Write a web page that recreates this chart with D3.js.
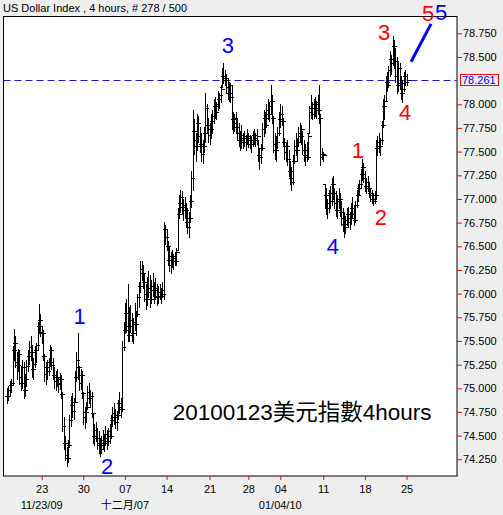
<!DOCTYPE html>
<html><head><meta charset="utf-8">
<script src="https://cdn.jsdelivr.net/npm/d3@7"></script>
<style>
html,body{margin:0;padding:0;background:#eeeeee;}
svg{display:block;font-family:"Liberation Sans",Arial,sans-serif;}
</style></head><body>
<svg id="chart" width="503" height="515"></svg>
<script>
// 4-hour bars of the US Dollar Index (high / low / close per bar)
const high = [
75.00,75.02,75.08,75.10,75.45,75.63,75.55,75.38,75.42,75.40,
75.24,75.30,75.28,75.15,75.30,75.40,75.50,75.55,75.46,75.32,
75.45,75.48,75.70,75.89,75.78,75.66,75.62,75.36,75.28,75.30,
75.32,75.46,75.44,75.32,75.22,75.18,75.20,75.12,75.16,75.14,
74.96,74.70,74.50,74.38,74.45,74.72,74.92,74.95,74.90,75.18,
75.38,75.58,75.24,75.20,75.18,74.96,74.80,74.86,75.02,75.06,
74.98,74.96,74.74,74.62,74.64,74.58,74.55,74.48,74.50,74.56,
74.52,74.60,74.56,74.58,74.62,74.72,74.80,74.84,74.78,74.76,
74.88,74.96,74.90,75.50,75.70,75.90,75.94,76.10,75.86,75.88,
75.80,75.74,75.90,75.82,76.00,76.12,76.34,76.35,76.30,76.22,
76.10,76.18,76.24,76.20,76.14,76.22,76.12,76.16,76.10,76.08,
76.10,76.06,76.12,76.76,76.72,76.68,76.56,76.50,76.44,76.46,
76.42,76.44,76.48,76.90,77.04,77.10,77.08,77.00,77.02,76.96,
76.90,76.86,77.04,77.30,77.94,77.84,77.70,77.90,77.88,77.76,
77.70,77.62,77.76,78.12,78.00,77.86,77.80,77.90,77.94,78.06,
78.08,78.02,78.14,78.12,78.20,78.38,78.44,78.36,78.32,78.28,
78.24,78.22,78.20,77.92,77.90,77.92,77.84,77.80,77.72,77.78,
77.70,77.72,77.68,77.74,77.70,77.68,77.66,77.72,77.74,77.70,
77.74,77.62,77.54,77.58,77.80,77.94,77.92,78.00,78.06,78.02,
78.20,78.10,77.88,77.70,77.66,77.76,77.92,78.00,77.98,77.86,
77.64,77.60,77.62,77.52,77.40,77.34,77.46,77.62,77.70,77.64,
77.76,77.80,77.78,77.72,77.62,77.58,77.60,77.70,77.98,78.10,
78.02,78.06,78.08,78.04,78.10,78.20,77.90,77.54,77.50,77.16,
77.12,77.00,77.10,77.14,77.22,77.24,77.12,77.08,77.04,77.12,
77.06,76.98,76.90,76.86,76.82,76.90,76.92,76.86,76.96,77.02,
76.94,76.98,77.10,77.16,77.20,77.32,77.42,77.38,77.30,77.22,
77.24,77.18,77.12,77.10,77.06,77.08,77.62,77.66,77.70,77.64,
77.82,78.06,78.10,78.30,78.34,78.40,78.56,78.52,78.72,78.68,
78.60,78.50,78.46,78.44,78.30,78.26,78.34,78.36,78.32
];
const low = [
74.84,74.88,74.92,74.96,75.04,75.30,75.22,75.10,75.18,75.05,
74.98,75.00,74.90,74.92,75.02,75.18,75.26,75.30,75.12,75.10,
75.22,75.28,75.42,75.58,75.55,75.48,75.30,75.08,75.05,75.10,
75.14,75.24,75.20,75.10,75.00,74.98,75.02,74.96,74.99,74.90,
74.55,74.36,74.24,74.18,74.22,74.38,74.60,74.70,74.68,74.86,
75.08,75.10,74.98,74.99,74.90,74.62,74.58,74.64,74.78,74.84,
74.80,74.70,74.42,74.40,74.44,74.36,74.32,74.28,74.32,74.36,
74.34,74.40,74.36,74.40,74.42,74.48,74.60,74.62,74.58,74.56,
74.68,74.74,74.70,74.76,75.40,75.58,75.60,75.50,75.50,75.60,
75.50,75.48,75.62,75.56,75.76,75.86,76.02,76.14,76.06,75.92,
75.84,75.88,75.96,75.86,75.90,75.98,75.90,75.94,75.88,75.90,
75.94,75.90,75.96,75.94,76.52,76.46,76.30,76.24,76.22,76.28,
76.26,76.30,76.30,76.46,76.80,76.86,76.84,76.78,76.80,76.70,
76.64,76.60,76.76,76.92,77.10,77.48,77.40,77.52,77.60,77.50,
77.40,77.38,77.50,77.60,77.70,77.60,77.58,77.64,77.70,77.80,
77.86,77.84,77.94,77.96,78.02,78.18,78.22,78.20,78.12,78.06,
78.04,78.02,77.74,77.70,77.72,77.70,77.62,77.56,77.52,77.54,
77.54,77.56,77.52,77.58,77.55,77.54,77.50,77.56,77.58,77.56,
77.58,77.40,77.32,77.38,77.52,77.66,77.70,77.76,77.84,77.82,
77.90,77.80,77.50,77.42,77.40,77.54,77.68,77.76,77.78,77.56,
77.42,77.40,77.36,77.24,77.16,77.10,77.16,77.38,77.46,77.40,
77.56,77.60,77.58,77.48,77.40,77.36,77.40,77.42,77.70,77.86,
77.84,77.86,77.88,77.86,77.90,77.80,77.36,77.42,77.40,76.92,
76.84,76.80,76.86,76.90,76.94,77.00,76.90,76.82,76.80,76.90,
76.82,76.72,76.66,76.60,76.64,76.72,76.70,76.68,76.74,76.80,
76.72,76.76,76.92,76.98,77.04,77.12,77.20,77.18,77.08,77.06,
77.08,77.02,76.98,76.96,76.94,76.96,77.00,77.46,77.50,77.46,
77.58,77.76,77.84,78.04,78.14,78.18,78.30,78.32,78.42,78.38,
78.24,78.12,78.14,78.16,78.06,78.02,78.14,78.20,78.20
];
const close = [
74.92,74.98,75.03,75.06,75.40,75.48,75.28,75.25,75.36,75.12,
75.06,75.22,74.98,75.10,75.24,75.34,75.44,75.38,75.20,75.26,
75.40,75.46,75.66,75.72,75.60,75.58,75.34,75.15,75.22,75.18,
75.28,75.40,75.25,75.14,75.08,75.12,75.05,75.06,75.10,74.94,
74.60,74.42,74.30,74.26,74.40,74.66,74.82,74.76,74.86,75.12,
75.30,75.22,75.06,75.14,74.95,74.70,74.75,74.80,74.96,74.90,
74.92,74.74,74.50,74.56,74.48,74.42,74.40,74.36,74.45,74.42,
74.48,74.52,74.44,74.55,74.50,74.66,74.74,74.70,74.64,74.72,
74.84,74.80,74.78,75.44,75.62,75.80,75.66,75.56,75.72,75.66,
75.58,75.70,75.68,75.78,75.96,76.08,76.26,76.22,76.12,76.00,
75.94,76.06,76.02,75.94,76.08,76.04,75.98,76.06,75.96,76.02,
75.98,76.04,76.00,76.68,76.60,76.50,76.36,76.30,76.40,76.34,
76.38,76.34,76.44,76.84,76.96,77.02,76.92,76.94,76.88,76.76,
76.70,76.80,76.98,77.22,77.72,77.62,77.56,77.80,77.66,77.58,
77.48,77.56,77.70,77.96,77.78,77.68,77.74,77.82,77.88,77.98,
77.92,78.00,78.06,78.10,78.16,78.30,78.26,78.28,78.18,78.12,
78.20,78.08,77.84,77.80,77.86,77.76,77.70,77.62,77.68,77.60,
77.64,77.60,77.66,77.62,77.64,77.58,77.62,77.68,77.64,77.62,
77.66,77.46,77.44,77.54,77.74,77.86,77.78,77.94,77.90,77.98,
78.04,77.86,77.58,77.52,77.60,77.70,77.84,77.90,77.82,77.60,
77.50,77.56,77.42,77.30,77.22,77.18,77.40,77.56,77.52,77.60,
77.70,77.66,77.74,77.52,77.46,77.52,77.44,77.66,77.92,77.96,
77.90,78.00,77.96,78.02,77.94,77.86,77.44,77.48,77.46,77.04,
76.90,76.96,77.06,76.98,77.16,77.06,76.96,76.88,76.98,77.00,
76.86,76.80,76.74,76.70,76.78,76.84,76.76,76.80,76.90,76.84,
76.78,76.94,77.04,77.12,77.16,77.26,77.34,77.22,77.14,77.18,
77.12,77.06,77.04,77.00,76.98,77.04,77.54,77.60,77.56,77.62,
77.78,77.98,78.04,78.24,78.20,78.36,78.48,78.44,78.62,78.46,
78.30,78.20,78.38,78.22,78.12,78.16,78.30,78.24,78.261
];

// the 78.250 level is covered by the last-price tag, so it is left out
const priceTicks = [74.25,74.5,74.75,75,75.25,75.5,75.75,76,76.25,76.5,76.75,77,77.25,77.5,77.75,78,78.5,78.75];
const dayTickIndex = [25,55,85,115,146,174,197,228,258,288];
const dayTickLabels = ["23","30","07","14","21","28","04","11","18","25"];
const dateRowIndex = [25,85,197];
const dateRowLabels = ["11/23/09","十二月/07","01/04/10"];
const lastPrice = 78.261;

// Elliott wave counts: label, bar position, price at the text baseline
const wavesBlue = [
  {t:"1", i:52.3, p:75.68},
  {t:"2", i:72.1, p:74.10},
  {t:"3", i:159.3, p:78.54},
  {t:"4", i:235.0, p:76.42},
  {t:"5", i:312.9, p:78.89}
];
const wavesRed = [
  {t:"1", i:253.0, p:77.43},
  {t:"2", i:269.6, p:76.725},
  {t:"3", i:271.8, p:78.68},
  {t:"4", i:287.0, p:77.83},
  {t:"5", i:303.5, p:78.88}
];
// projected wave 5 path
const projection = [{i:291.3, p:78.45},{i:305.7, p:78.85}];

const svg = d3.select("#chart");
const plot = {left:3.5, top:16.5, right:457, bottom:476};

const x = d3.scaleLinear().domain([0, 288]).range([7, 406.5]);
const y = d3.scaleLinear().domain([74.25, 78.75]).range([459.3, 33.3]);

// title
svg.append("text").attr("x",3).attr("y",12).attr("font-size","11px").attr("fill","#000")
  .text("US Dollar Index , 4 hours, # 278 / 500");

// plot background and frame
svg.append("rect").attr("x",plot.left).attr("y",plot.top)
  .attr("width",plot.right-plot.left).attr("height",plot.bottom-plot.top)
  .attr("fill","#fff").attr("stroke","#000").attr("stroke-width",1);

// last price reference line
svg.append("line").attr("x1",plot.left).attr("x2",plot.right)
  .attr("y1",Math.round(y(lastPrice))+0.5).attr("y2",Math.round(y(lastPrice))+0.5)
  .attr("stroke","#1a1acc").attr("stroke-width",1).attr("stroke-dasharray","7,4");

// OHLC bars; the open is taken at the prior bar's close
const px = i => Math.round(x(i)) + 0.5;
const py = v => Math.round(y(v)) + 0.5;
const bars = svg.append("g").attr("stroke","#000").attr("stroke-width",1)
  .attr("shape-rendering","crispEdges");
close.forEach((c,i) => {
  const o = Math.max(low[i], Math.min(high[i], i>0 ? close[i-1] : c));
  const cx = px(i);
  bars.append("line").attr("x1",cx).attr("x2",cx).attr("y1",py(high[i])-0.5).attr("y2",py(low[i])+0.5);
  bars.append("line").attr("x1",cx-3).attr("x2",cx).attr("y1",py(o)).attr("y2",py(o));
  bars.append("line").attr("x1",cx).attr("x2",cx+3).attr("y1",py(c)).attr("y2",py(c));
});

// right price axis
const ay = svg.append("g").attr("transform",`translate(${plot.right},0)`)
  .call(d3.axisRight(y).tickValues(priceTicks).tickSize(5).tickPadding(1).tickFormat(d3.format(".3f")));
ay.select(".domain").remove();
ay.selectAll(".tick line").attr("stroke","#ff0000");
ay.selectAll(".tick text").attr("font-size","11px").attr("font-family","Liberation Sans, Arial, sans-serif").attr("fill","#000");

// bottom time axis
const ax = svg.append("g").attr("transform",`translate(0,${plot.bottom})`)
  .call(d3.axisBottom(x).tickValues(dayTickIndex).tickSize(4).tickPadding(5)
    .tickFormat((d,k) => dayTickLabels[k]));
ax.select(".domain").remove();
ax.selectAll(".tick line").attr("stroke","#ff0000");
ax.selectAll(".tick text").attr("font-size","11px").attr("font-family","Liberation Sans, Arial, sans-serif").attr("fill","#000");

svg.append("g").selectAll("text").data(dateRowIndex).join("text")
  .attr("x", d => x(d)).attr("y", 509).attr("text-anchor","middle")
  .attr("font-size","11px").attr("fill","#000")
  .attr("font-family","Liberation Sans, 'Noto Sans CJK TC', sans-serif")
  .text((d,k) => dateRowLabels[k]);

// last price tag
const tagY = y(lastPrice);
svg.append("rect").attr("x",460.5).attr("y",Math.round(tagY)-5.5).attr("width",38).attr("height",11)
  .attr("fill","none").attr("stroke","#ff0000");
svg.append("text").attr("x",462).attr("y",Math.round(tagY)+4).attr("font-size","11px")
  .attr("fill","#0000ff").text(d3.format(".3f")(lastPrice));

// wave labels
const waveFont = "22px";
svg.append("g").selectAll("text").data(wavesBlue).join("text")
  .attr("x", d => x(d.i)).attr("y", d => y(d.p)).attr("text-anchor","middle")
  .attr("font-size", waveFont).attr("fill","#0000ff").text(d => d.t);
svg.append("g").selectAll("text").data(wavesRed).join("text")
  .attr("x", d => x(d.i)).attr("y", d => y(d.p)).attr("text-anchor","middle")
  .attr("font-size", waveFont).attr("fill","#ff0000").text(d => d.t);

svg.append("path").datum(projection)
  .attr("d", d3.line().x(d => x(d.i)).y(d => y(d.p)))
  .attr("stroke","#0000ff").attr("stroke-width",3).attr("fill","none");

// chart caption
svg.append("text").attr("x",172.7).attr("y",420).attr("font-size","22.5px").attr("fill","#000")
  .attr("font-family","Liberation Sans, 'Noto Sans CJK TC', sans-serif")
  .text("20100123美元指數4hours");
</script>
</body></html>
